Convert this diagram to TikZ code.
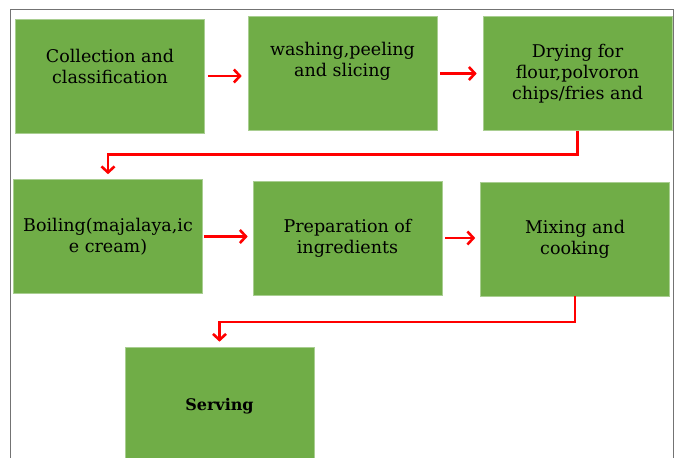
\documentclass[tikz,border=0pt]{standalone}
\usepackage{fontspec}
\setmainfont{DejaVu Serif}
\usetikzlibrary{arrows.meta}
\definecolor{boxgreen}{HTML}{70AD47}
\begin{document}
\begin{tikzpicture}[x=1pt,y=-1pt,
    stepbox/.style={fill=boxgreen,draw=boxgreen!60!white,line width=0.6pt,
      minimum width=189pt,minimum height=114pt,inner sep=0pt},
    steptext/.style={align=center,text=black,
      font=\fontsize{17.5}{21}\selectfont},
    flow/.style={draw=red,line width=2.6pt,
      -{Straight Barb[length=6pt,width=13pt]}}]
  \useasboundingbox (0,0) rectangle (676,457);
  \clip (0,0) rectangle (676,457);
  \draw[black!55,line width=1.5pt] (10.5,460) -- (10.5,9.5) -- (673.5,9.5) -- (673.5,460);
  % first row
  \node[stepbox] (collect) at (110,76) {};
  \node[stepbox] (wash) at (342.5,73.5) {};
  \node[stepbox] (dry) at (577.5,73.5) {};
  \node[steptext] (collect-t) at ([yshift=10pt]collect.center) {Collection and\\classification};
  \node[steptext] (wash-t) at ([yshift=12pt]wash.center) {washing,peeling\\and slicing};
  \node[steptext] (dry-t) at (dry.center) {Drying for\\flour,polvoron\\chips/fries and};
  % second row
  \node[stepbox] (boil) at (108,236.5) {};
  \node[stepbox] (prep) at (347.5,238) {};
  \node[stepbox] (mix) at (575,239) {};
  \node[steptext] (boil-t) at (boil.center) {Boiling(majalaya,ic\\e cream)};
  \node[steptext] (prep-t) at (prep.center) {Preparation of\\ingredients};
  \node[steptext] (mix-t) at (mix.center) {Mixing and\\cooking};
  % last step
  \node[stepbox] (serve) at (219.5,404) {};
  \node[steptext,font=\fontsize{16}{19}\selectfont\bfseries] (serve-t) at ([yshift=-2pt]serve.center) {Serving};
  % arrows
  \draw[flow,shorten <=3pt,shorten >=6pt] (collect.east) -- (collect.east -| wash.west);
  \draw[flow,shorten <=3pt,shorten >=6pt] (wash.east) -- (dry.west);
  \draw[flow,shorten >=5pt] (dry.south) -- ++(0,24) -| (boil.north);
  \draw[flow,shorten <=1pt,shorten >=5pt] (boil.east) -- (boil.east -| prep.west);
  \draw[flow,shorten <=3pt,shorten >=5pt] (prep.east) -- (prep.east -| mix.west);
  \draw[flow,shorten >=5pt] (mix.south) -- ++(0,25.5) -| (serve.north);
\end{tikzpicture}
\end{document}
